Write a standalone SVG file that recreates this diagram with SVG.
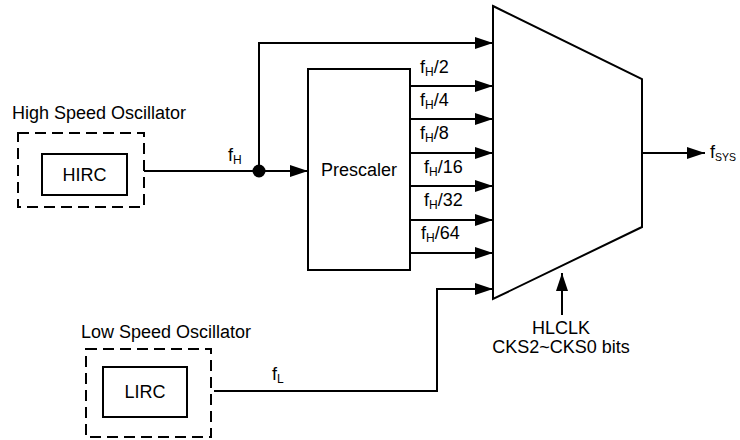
<svg xmlns="http://www.w3.org/2000/svg" width="740" height="440" viewBox="0 0 740 440">
<defs>
<marker id="arr" markerUnits="userSpaceOnUse" markerWidth="18" markerHeight="12" refX="18" refY="6" orient="auto">
<path d="M0,0 L18,6 L0,12 z" fill="#000"/>
</marker>
<style>
text{font-family:"Liberation Sans",Arial,sans-serif;font-size:18px;fill:#000}
.sub{font-size:12px}
.sub2{font-size:10.5px}
.c{text-anchor:middle}
.box{fill:none;stroke:#000;stroke-width:2}
.dash{fill:none;stroke:#000;stroke-width:2;stroke-dasharray:11,6}
.w{fill:none;stroke:#000;stroke-width:2}
.a{fill:none;stroke:#000;stroke-width:2;marker-end:url(#arr)}
</style>
</defs>
<rect width="740" height="440" fill="#fff"/>
<g id="hso">
<text x="12" y="119">High Speed Oscillator</text>
<rect class="dash" x="18" y="133" width="126" height="74"/>
</g>
<g id="hirc">
<rect class="box" x="42" y="154" width="85" height="41"/>
<text class="c" x="84.5" y="181">HIRC</text>
</g>
<g id="lso">
<text x="81" y="338">Low Speed Oscillator</text>
<rect class="dash" x="86" y="349" width="125" height="88"/>
</g>
<g id="lirc">
<rect class="box" x="103" y="367" width="84" height="50"/>
<text class="c" x="145" y="398">LIRC</text>
</g>
<g id="prescaler">
<rect class="box" x="308" y="69" width="102" height="201"/>
<text class="c" x="359" y="176">Prescaler</text>
</g>
<g id="mux">
<path class="box" d="M493,6 L642,79 L642,227 L493,299 Z"/>
</g>
<g id="connectors">
<path class="w" d="M144,171 L259,171"/>
<path class="a" d="M259,171 L308,171"/>
<path class="a" d="M259,171 L259,43 L493,43"/>
<circle cx="259" cy="171" r="6.5" fill="#000"/>
<path class="a" d="M410,86 L493,86"/>
<path class="a" d="M410,119 L493,119"/>
<path class="a" d="M410,153 L493,153"/>
<path class="a" d="M410,186 L493,186"/>
<path class="a" d="M410,220 L493,220"/>
<path class="a" d="M410,253 L493,253"/>
<path class="a" d="M214,391 L437,391 L437,289 L493,289"/>
<path class="a" d="M642,153 L705,153"/>
<path class="a" d="M562,315 L562,273"/>
</g>
<g id="labels">
<text x="228" y="161">f<tspan class="sub" dy="3">H</tspan></text>
<text x="272" y="380">f<tspan class="sub" dy="3">L</tspan></text>
<text x="420" y="73">f<tspan class="sub" dy="3">H</tspan><tspan dy="-3">/2</tspan></text>
<text x="420" y="106">f<tspan class="sub" dy="3">H</tspan><tspan dy="-3">/4</tspan></text>
<text x="420" y="139">f<tspan class="sub" dy="3">H</tspan><tspan dy="-3">/8</tspan></text>
<text x="424" y="173">f<tspan class="sub" dy="3">H</tspan><tspan dy="-3">/16</tspan></text>
<text x="424" y="206">f<tspan class="sub" dy="3">H</tspan><tspan dy="-3">/32</tspan></text>
<text x="421" y="239">f<tspan class="sub" dy="3">H</tspan><tspan dy="-3">/64</tspan></text>
<text x="710" y="158">f<tspan class="sub2" dy="3">SYS</tspan></text>
<text class="c" x="561" y="334">HLCLK</text>
<text class="c" x="561" y="353">CKS2~CKS0 bits</text>
</g>
</svg>
